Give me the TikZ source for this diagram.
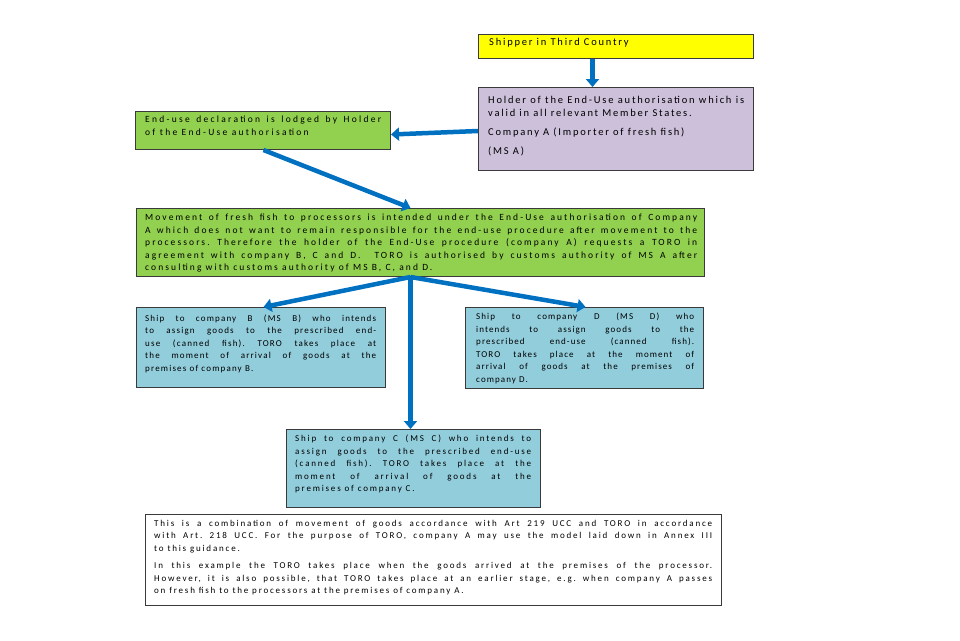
\documentclass[tikz,border=0pt]{standalone}
\usepackage{fontspec}
\setmainfont{Carlito}
\usetikzlibrary{arrows.meta}
\definecolor{cyel}{HTML}{FFFF00}
\definecolor{cpur}{HTML}{CCC0DA}
\definecolor{cgrn}{HTML}{92D050}
\definecolor{cblu}{HTML}{92CDDC}
\definecolor{carr}{HTML}{0070C0}
\definecolor{cbrd}{HTML}{3A3A3A}
\tikzset{
  box/.style={draw=cbrd, line width=1pt, anchor=north west, inner sep=0pt},
  txt/.style 2 args={anchor=north west, inner sep=0pt, align=justify,
    font=\fontsize{#1}{12.5}\selectfont\addfontfeature{LetterSpace=#2}\frenchspacing},
  flow/.style={draw=carr, line width=4.5pt, -{Triangle[width=13pt,length=8pt]}}
}
\begin{document}
\begin{tikzpicture}[x=1pt,y=-1pt]
\useasboundingbox (0,0) rectangle (960,640);
\fill[white] (0,0) rectangle (960,640);
% boxes
\node[box, fill=cyel, minimum width=275pt, minimum height=24pt] (yel) at (478,34) {};
\node[box, fill=cpur, minimum width=275pt, minimum height=83pt] (pur) at (478,87) {};
\node[box, fill=cgrn, minimum width=255pt, minimum height=38pt] (ga) at (135,111) {};
\node[box, fill=cgrn, minimum width=568pt, minimum height=68pt] (gb) at (136,208) {};
\node[box, fill=cblu, minimum width=249pt, minimum height=80pt] (bb) at (136,307) {};
\node[box, fill=cblu, minimum width=238pt, minimum height=81pt] (bd) at (465,307) {};
\node[box, fill=cblu, minimum width=254pt, minimum height=78pt] (bc) at (286,429) {};
\node[box, fill=white, minimum width=576pt, minimum height=91pt] (note) at (145,514) {};
% texts
\node[txt={10.5}{17}, text width=260pt] (tyel) at (489,38) {Shipper in Third Country};
\node[txt={10.5}{17}, text width=256pt] (tpur) at (488,96.5) {Holder of the End-Use authorisation which is\linebreak valid in all relevant Member States.\par\vspace{6.5pt}
Company A (Importer of fresh fish)\par\vspace{6.5pt}
(MS A)};
\node[txt={9.5}{24}, text width=236pt] (tga) at (145,116) {End-use declaration is lodged by Holder\linebreak of the End-Use authorisation};
\node[txt={9.5}{22}, text width=552pt] (tgb) at (145,214) {Movement of fresh fish to processors is intended under the End-Use authorisation of Company\linebreak A which does not want to remain responsible for the end-use procedure after movement to the\linebreak processors. Therefore the holder of the End-Use procedure (company A) requests a TORO in\linebreak agreement with company B, C and D.\ \ TORO is authorised by customs authority of MS A after\linebreak consulting with customs authority of MS B, C, and D.};
\node[txt={9}{13}, text width=231pt] (tbb) at (145,314.5) {Ship to company B (MS B) who intends\linebreak to assign goods to the prescribed end-\linebreak use (canned fish). TORO takes place at\linebreak the moment of arrival of goods at the\linebreak premises of company B.};
\node[txt={9}{12}, text width=218pt] (tbd) at (476,313) {Ship to company D (MS D) who\linebreak intends to assign goods to the\linebreak prescribed end-use (canned fish).\linebreak TORO takes place at the moment of\linebreak arrival of goods at the premises of\linebreak company D.};
\node[txt={9}{20}, text width=236pt] (tbc) at (295,435) {Ship to company C (MS C) who intends to\linebreak assign goods to the prescribed end-use\linebreak (canned fish). TORO takes place at the\linebreak moment of arrival of goods at the\linebreak premises of company C.};
\node[txt={9}{20}, text width=558pt] (tnote) at (154,520) {This is a combination of movement of goods accordance with Art 219 UCC and TORO in accordance\linebreak with Art. 218 UCC. For the purpose of TORO, company A may use the model laid down in Annex III\linebreak to this guidance.\par\vspace{5pt}
In this example the TORO takes place when the goods arrived at the premises of the processor.\linebreak However, it is also possible, that TORO takes place at an earlier stage, e.g. when company A passes\linebreak on fresh fish to the processors at the premises of company A.};
% connectors
\draw[flow] ([xshift=-23.5pt]yel.south) -- ([xshift=-23.5pt]pur.north);
\draw[flow] ([yshift=-2pt]pur.west) -- ([yshift=-4pt]ga.east);
\draw[flow] ([xshift=0.5pt]ga.south) -- ([xshift=-10pt]gb.north);
\draw[flow] ([xshift=-10pt]gb.south) -- ([xshift=2.5pt]bb.north);
\draw[flow] ([xshift=-10pt]gb.south) -- ([xshift=1pt]bd.north);
\draw[flow] ([xshift=-10pt]gb.south) -- ([xshift=-3pt]bc.north);
\end{tikzpicture}
\end{document}
